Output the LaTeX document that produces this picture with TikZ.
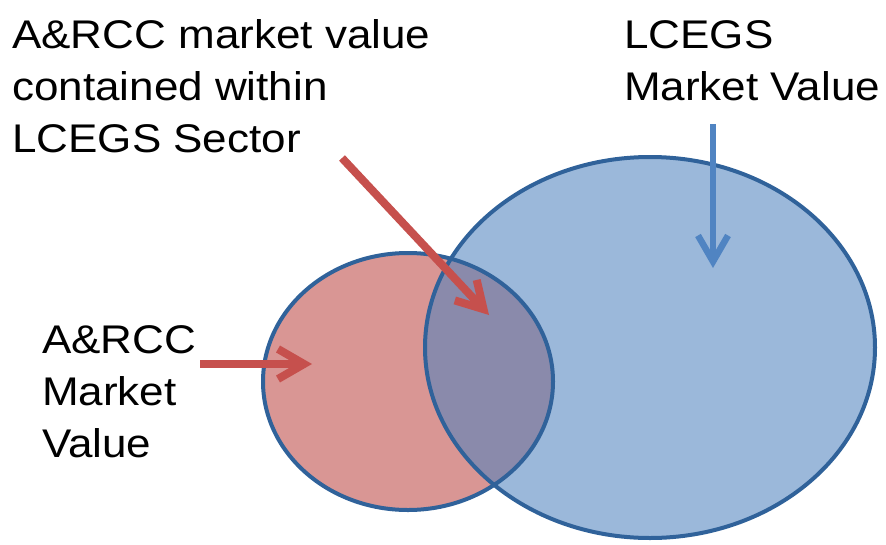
\documentclass[tikz,border=0pt]{standalone}
\usepackage{fontspec}
\setmainfont{Liberation Sans}[FakeStretch=1.1]
\usetikzlibrary{arrows.meta}
\definecolor{redfill}{HTML}{D99694}
\definecolor{bluefill}{HTML}{9BB8DA}
\definecolor{overlapfill}{HTML}{8A8AAB}
\definecolor{outline}{HTML}{30629A}
\definecolor{redarrow}{HTML}{C6504D}
\definecolor{bluearrow}{HTML}{5084C2}
\tikzset{
  lbl/.style={anchor=base west, inner sep=0pt, font=\fontsize{40}{52}\selectfont, text=black},
  ring/.style={draw=outline, line width=4pt},
  redarr/.style={draw=redarrow, line width=8pt, -{Straight Barb[length=26pt,width=30pt,line width=8pt]}},
  bluearr/.style={draw=bluearrow, line width=6.5pt, -{Straight Barb[length=26pt,width=30pt,line width=6.5pt]}}
}
\begin{document}
\begin{tikzpicture}[x=1pt,y=-1pt]
\useasboundingbox (0,0) rectangle (886,544);
\coordinate (bluec) at (650,347.5);
\coordinate (redc) at (408,381.5);
% fills
\fill[bluefill] (bluec) ellipse [x radius=225pt, y radius=190.5pt];
\fill[redfill] (redc) ellipse [x radius=145pt, y radius=128.5pt];
\begin{scope}
  \clip (bluec) ellipse [x radius=225pt, y radius=190.5pt];
  \fill[overlapfill] (redc) ellipse [x radius=145pt, y radius=128.5pt];
\end{scope}
% outlines
\draw[ring] (bluec) ellipse [x radius=225pt, y radius=190.5pt];
\draw[ring] (redc) ellipse [x radius=145pt, y radius=128.5pt];
% labels
\node[lbl] (t1a) at (12,48) {A\&RCC market value};
\node[lbl] (t1b) at (12,100) {contained within};
\node[lbl] (t1c) at (12,152) {LCEGS Sector};
\node[lbl] (t2a) at (624,48) {LCEGS};
\node[lbl] (t2b) at (624,100) {Market Value};
\node[lbl] (t3a) at (42,353) {A\&RCC};
\node[lbl] (t3b) at (42,405) {Market};
\node[lbl] (t3c) at (42,457) {Value};
% arrows
\coordinate (a1s) at (200,364);
\coordinate (a1e) at (312,364);
\coordinate (a2s) at (342,158);
\coordinate (a2e) at (489,315);
\coordinate (a3s) at (713,124);
\coordinate (a3e) at (713,268);
\draw[redarr] (a1s) -- (a1e);
\draw[redarr] (a2s) -- (a2e);
\draw[bluearr] (a3s) -- (a3e);
\end{tikzpicture}
\end{document}
